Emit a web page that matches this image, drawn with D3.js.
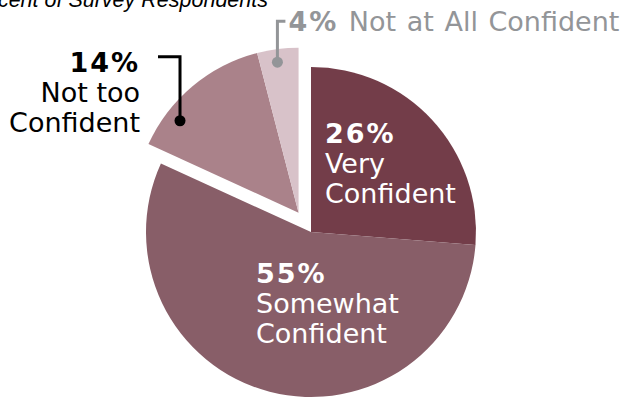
<!DOCTYPE html>
<html>
<head>
<meta charset="utf-8">
<script src="https://cdn.jsdelivr.net/npm/d3@7"></script>
<style>
  html, body { margin: 0; padding: 0; background: #fff; }
  svg { display: block; }
</style>
</head>
<body>
<svg id="chart" width="626" height="398"></svg>
<script>
// Confidence levels, in pie order (clockwise from 12 o'clock)
const categories = ["Very Confident", "Somewhat Confident", "Not too Confident", "Not at All Confident"];
const values = [26, 55, 14, 4];
const valueLabels = ["26%", "55%", "14%", "4%"];
const labelLines = [["Very", "Confident"], ["Somewhat", "Confident"], ["Not too", "Confident"], ["Not at All Confident"]];
const colors = ["#733d49", "#885e68", "#aa828a", "#d8c2c9"];
const exploded = [false, false, true, true];
const title = "Percent of Survey Respondents";

const svg = d3.select("#chart");
const cx = 311, cy = 232, radius = 165, explodeDist = 23;
const font = "'DejaVu Sans', Verdana, sans-serif";
const fontSize = 27, lh = 30, boldSpacing = 2;

const pie = d3.pie().sort(null).value(d => d);
const arcs = pie(values);
const arc = d3.arc().innerRadius(0).outerRadius(radius);

// the two smaller slices are pulled out together along their shared bisector
const grp = arcs.filter((a, i) => exploded[i]);
const grpMid = (d3.min(grp, a => a.startAngle) + d3.max(grp, a => a.endAngle)) / 2;
const ox = Math.sin(grpMid) * explodeDist, oy = -Math.cos(grpMid) * explodeDist;

const g = svg.append("g").attr("transform", `translate(${cx},${cy})`);
const sliceG = arcs.map((a, i) =>
  g.append("g").attr("transform", exploded[i] ? `translate(${ox},${oy})` : null));

arcs.forEach((a, i) => {
  sliceG[i].append("path").attr("d", arc(a)).attr("fill", colors[i]);
});

// point inside a slice: fraction t across the slice, at radial distance r
function slicePoint(a, t, r) {
  const ang = a.startAngle + (a.endAngle - a.startAngle) * t;
  return [Math.sin(ang) * r, -Math.cos(ang) * r];
}

function block(parent, x, y, pct, lines, color, anchor) {
  const t = parent.append("text")
    .attr("x", x).attr("y", y)
    .attr("font-family", font).attr("font-size", fontSize)
    .attr("fill", color).attr("text-anchor", anchor);
  t.append("tspan").attr("x", x).attr("font-weight", "bold")
    .attr("letter-spacing", boldSpacing).text(pct);
  lines.forEach(l => t.append("tspan").attr("x", x).attr("dy", lh).text(l));
}

// inside labels
block(g, 14, -89, valueLabels[0], labelLines[0], "#ffffff", "start");
block(g, -55, 51, valueLabels[1], labelLines[1], "#ffffff", "start");

// 14% callout with leader
{
  const a = arcs[2];
  const [px, py] = slicePoint(a, 0.26, 150);
  const dx = px + ox, dy = py + oy;
  const topY = dy - 64;
  g.append("path")
    .attr("d", `M${dx - 22},${topY}H${dx}V${dy}`)
    .attr("fill", "none").attr("stroke", "#000").attr("stroke-width", 3);
  g.append("circle").attr("cx", dx).attr("cy", dy).attr("r", 5.5).attr("fill", "#000");
  block(g, dx - 40, topY + 15, valueLabels[2], labelLines[2], "#000", "end");
}

// 4% callout with leader
{
  const a = arcs[3];
  const [px, py] = slicePoint(a, 0.45, 152);
  const dx = px + ox, dy = py + oy;
  const topY = dy - 41;
  g.append("path")
    .attr("d", `M${dx + 8},${topY}H${dx}V${dy}`)
    .attr("fill", "none").attr("stroke", "#939598").attr("stroke-width", 3);
  g.append("circle").attr("cx", dx).attr("cy", dy).attr("r", 5.5).attr("fill", "#939598");
  const t = g.append("text")
    .attr("x", dx + 11).attr("y", topY + 10)
    .attr("font-family", font).attr("font-size", fontSize).attr("fill", "#939598")
    .attr("word-spacing", 2);
  t.append("tspan").attr("font-weight", "bold")
    .attr("letter-spacing", boldSpacing).text(valueLabels[3]);
  t.append("tspan").text(" " + labelLines[3][0]);
}

// axis-style title, partly off the left edge
svg.append("text")
  .attr("x", 268).attr("y", 7)
  .attr("text-anchor", "end")
  .attr("font-family", "'Liberation Sans', Arial, sans-serif")
  .attr("font-style", "italic")
  .attr("font-size", 21.5)
  .attr("fill", "#000")
  .text(title);
</script>
</body>
</html>
